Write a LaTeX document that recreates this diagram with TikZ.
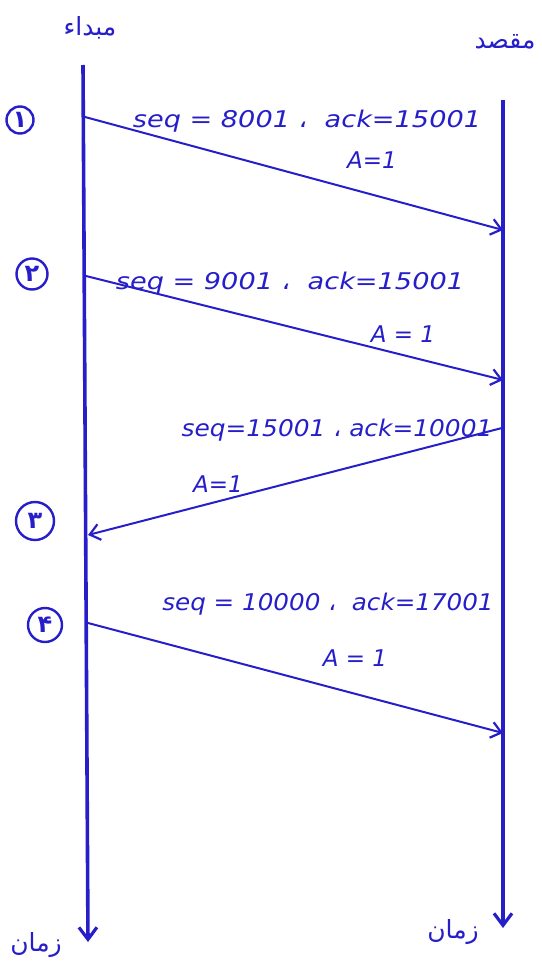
\documentclass[tikz,border=0pt]{standalone}
\usepackage{fontspec}
\setmainfont{DejaVu Sans}
\newfontfamily\arabicfont[Script=Arabic]{DejaVu Sans}
\TeXXeTstate=1
\usetikzlibrary{arrows.meta}
\definecolor{ink}{RGB}{38,30,200}
\tikzset{
  lifeline/.style={draw=ink,line width=3.6pt,-{Straight Barb[length=12pt,width=18pt,line width=3.2pt]}},
  msg/.style={draw=ink,line width=2pt,-{Straight Barb[length=10pt,width=16pt,line width=2.2pt]}},
  lbl/.style={text=ink,font=\fontsize{23}{26}\selectfont\itshape,inner sep=0pt},
  fa/.style={text=ink,font=\arabicfont\fontsize{25}{30}\selectfont,inner sep=0pt},
  numc/.style={draw=ink,line width=2.4pt,circle,text=ink,font=\arabicfont\bfseries\fontsize{24}{24}\selectfont,inner sep=0pt,minimum size=#1},
}
\begin{document}
\begin{tikzpicture}[x=1pt,y=-1pt]
\useasboundingbox (0,0) rectangle (541,966);
% lifelines
\coordinate (Ltop) at (83,65);
\coordinate (Lbot) at (88,942);
\coordinate (Rtop) at (503,100);
\coordinate (Rbot) at (503,928);
\draw[lifeline] (Ltop) -- (Lbot);
\draw[lifeline] (Rtop) -- (Rbot);
% headers
\node[fa] (src) at (90,28) {\beginR مبداء\endR};
\node[fa] (dst) at (505,42) {\beginR مقصد\endR};
\node[fa] (tL) at (36,945) {\beginR زمان\endR};
\node[fa] (tR) at (453,932) {\beginR زمان\endR};
% message points
\coordinate (a1) at (85,117);  \coordinate (b1) at (503,230);
\coordinate (a2) at (86,276);  \coordinate (b2) at (503,380);
\coordinate (b3) at (502,428); \coordinate (a3) at (88,535);
\coordinate (a4) at (88,623);  \coordinate (b4) at (503,733);
\draw[msg] (a1) -- (b1);
\draw[msg] (a2) -- (b2);
\draw[msg] (b3) -- (a3);
\draw[msg] (a4) -- (b4);
% labels
\node[lbl,xscale=1.18] (l1) at (307,121) {seq = 8001 {\upshape\arabicfont ،} \ ack=15001};
\node[lbl] (A1) at (372,160) {A=1};
\node[lbl,xscale=1.18] (l2) at (290,283) {seq = 9001 {\upshape\arabicfont ،} \ ack=15001};
\node[lbl] (A2) at (403,334) {A = 1};
\node[lbl,xscale=1.08] (l3) at (337,430) {seq=15001 {\upshape\arabicfont ،} ack=10001};
\node[lbl] (A3) at (218,484) {A=1};
\node[lbl,xscale=1.07] (l4) at (328,604) {seq = 10000 {\upshape\arabicfont ،} \ ack=17001};
\node[lbl] (A4) at (355,658) {A = 1};
% step numbers
\node[numc=27pt] (n1) at (20,120) {۱};
\node[numc=31pt] (n2) at (32,274) {۲};
\node[numc=38pt] (n3) at (35,521) {۳};
\node[numc=34pt] (n4) at (45,625) {۴};
\end{tikzpicture}
\end{document}
